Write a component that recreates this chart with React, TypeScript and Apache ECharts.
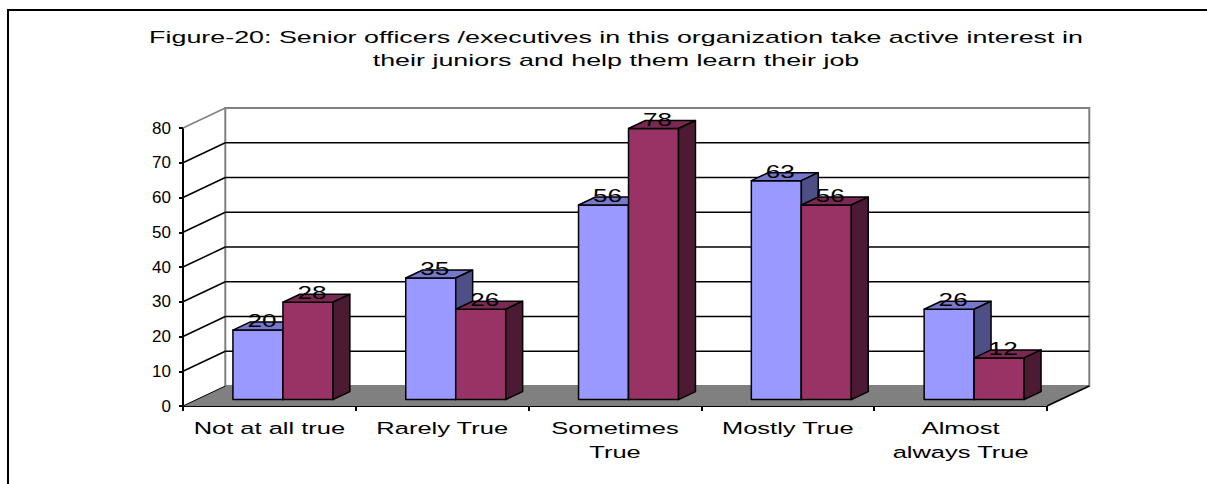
import React, { useEffect, useRef } from "react";
import * as echarts from "echarts";

const categories = [
  "Not at all true",
  "Rarely True",
  "Sometimes\nTrue",
  "Mostly True",
  "Almost\nalways True",
];
const seriesBlue = [20, 35, 56, 63, 26];
const seriesRed = [28, 26, 78, 56, 12];
const yTicks = [0, 10, 20, 30, 40, 50, 60, 70, 80];
const titleText =
  "Figure-20: Senior officers /executives in this organization take active interest in\ntheir juniors and help them learn their job";

const DX = 42.3;
const DY = -20;
const FRONT = 0.32;
const DEPTH = 0.4;
const BAR_FRAC = 50 / 172.8;
const FONT = "Arial, 'Liberation Sans', sans-serif";
const STRETCH = 1.5;

const wallsRender = (params: any, api: any) => {
  const cs = params.coordSys;
  const L = cs.x;
  const R = cs.x + cs.width;
  const T = cs.y;
  const B = cs.y + cs.height;
  const children: any[] = [];
  children.push({
    type: "polygon",
    shape: { points: [[L, B], [R, B], [R + DX, B + DY], [L + DX, B + DY]] },
    style: { fill: "#808080" },
  });
  children.push({
    type: "rect",
    shape: { x: L + DX, y: T + DY, width: R - L, height: B - T },
    style: { fill: "#ffffff", stroke: "#808080", lineWidth: 2 },
  });
  yTicks.forEach((v) => {
    const y = api.coord([0, v])[1];
    if (v > 0 && v < 80) {
      children.push({
        type: "line",
        shape: { x1: L + DX, y1: y + DY, x2: R + DX, y2: y + DY },
        style: { stroke: "#000", lineWidth: 1.5 },
      });
    }
    children.push({
      type: "line",
      shape: { x1: L, y1: y, x2: L + DX, y2: y + DY },
      style: { stroke: v === 80 ? "#808080" : "#000", lineWidth: v === 0 ? 1 : 1.5 },
    });
  });
  children.push({
    type: "line",
    shape: { x1: R, y1: B, x2: R + DX, y2: B + DY },
    style: { stroke: "#000", lineWidth: 1.5 },
  });
  return { type: "group", children };
};

const labelsRender = (params: any, api: any) => {
  const ci = api.value(0);
  const p = api.coord([ci, 0]);
  return {
    type: "text",
    x: p[0],
    y: p[1] + 10,
    scaleX: STRETCH,
    style: {
      text: categories[ci],
      fill: "#000",
      font: `17px ${FONT}`,
      align: "center",
      verticalAlign: "top",
      lineHeight: 24,
    },
  };
};

const makeBars = (
  name: string,
  values: number[],
  side: number,
  colors: { front: string; top: string; side: string }
) => ({
  type: "custom",
  name,
  z: 3,
  data: values.map((v, i) => [i, v]),
  encode: { x: 0, y: 1 },
  renderItem: (params: any, api: any) => {
    const ci = api.value(0);
    const v = api.value(1);
    const base = api.coord([ci, 0]);
    const top = api.coord([ci, v]);
    const band = (api.size([1, 0]) as number[])[0];
    const w = band * BAR_FRAC;
    const ox = FRONT * DX;
    const oy = FRONT * DY;
    const dx = DEPTH * DX;
    const dy = DEPTH * DY;
    const x0 = base[0] + (side === 0 ? -w : 0) + ox;
    const x1 = x0 + w;
    const yb = base[1] + oy;
    const yt = top[1] + oy;
    const stroke = { stroke: "#000", lineWidth: 1.5, lineJoin: "round" };
    return {
      type: "group",
      children: [
        {
          type: "rect",
          shape: { x: x0, y: yt, width: w, height: yb - yt },
          style: { fill: colors.front, ...stroke },
        },
        {
          type: "polygon",
          shape: { points: [[x0, yt], [x1, yt], [x1 + dx, yt + dy], [x0 + dx, yt + dy]] },
          style: { fill: colors.top, ...stroke },
        },
        {
          type: "polygon",
          shape: { points: [[x1, yt], [x1 + dx, yt + dy], [x1 + dx, yb + dy], [x1, yb]] },
          style: { fill: colors.side, ...stroke },
        },
        {
          type: "text",
          z2: 100,
          x: (x0 + x1) / 2 + 4,
          y: yt + dy - 1,
          scaleX: 1.45,
          style: {
            text: String(v),
            fill: "#000",
            font: `18px ${FONT}`,
            align: "center",
            verticalAlign: "middle",
          },
        },
      ],
    };
  },
});

export default function App() {
  const ref = useRef<HTMLDivElement>(null);
  useEffect(() => {
    document.body.style.margin = "0";
    if (!ref.current) return;
    const chart = echarts.init(ref.current, undefined, { renderer: "svg" });
    chart.setOption({
      animation: false,
      backgroundColor: "#ffffff",
      graphic: [
        {
          type: "rect",
          z: -10,
          shape: { x: 8, y: 10, width: 1400, height: 700 },
          style: { fill: "none", stroke: "#000", lineWidth: 2 },
        },
        {
          type: "text",
          x: 616,
          y: 26,
          scaleX: 1.58,
          style: {
            text: titleText,
            font: `17px ${FONT}`,
            fill: "#000",
            align: "center",
            verticalAlign: "top",
            lineHeight: 23,
          },
        },
      ],
      grid: { left: 183, right: 160, top: 128, bottom: 78, containLabel: false },
      xAxis: {
        type: "category",
        data: categories,
        boundaryGap: true,
        axisLine: { lineStyle: { color: "#000", width: 2 } },
        axisTick: { show: true, length: 5, interval: 0, lineStyle: { color: "#000", width: 2 } },
        axisLabel: { show: false },
        splitLine: { show: false },
      },
      yAxis: {
        type: "value",
        min: 0,
        max: 80,
        interval: 10,
        axisLine: { show: true, lineStyle: { color: "#000", width: 2 } },
        axisTick: { show: true, length: 4, lineStyle: { color: "#000", width: 2 } },
        axisLabel: { color: "#000", fontFamily: FONT, fontSize: 17, margin: 12 },
        splitLine: { show: false },
      },
      series: [
        { type: "custom", name: "walls", z: 1, data: [[0, 0]], encode: { x: 0, y: 1 }, renderItem: wallsRender, silent: true },
        makeBars("Series 1", seriesBlue, 0, { front: "#9999FF", top: "#7777CC", side: "#4F4F88" }),
        makeBars("Series 2", seriesRed, 1, { front: "#993366", top: "#7A2952", side: "#4D1A33" }),
        {
          type: "custom",
          name: "categoryLabels",
          z: 4,
          silent: true,
          data: categories.map((_, i) => [i, 0]),
          encode: { x: 0, y: 1 },
          renderItem: labelsRender,
        },
      ],
    });
    return () => chart.dispose();
  }, []);
  return <div ref={ref} style={{ width: 1207, height: 484 }} />;
}
